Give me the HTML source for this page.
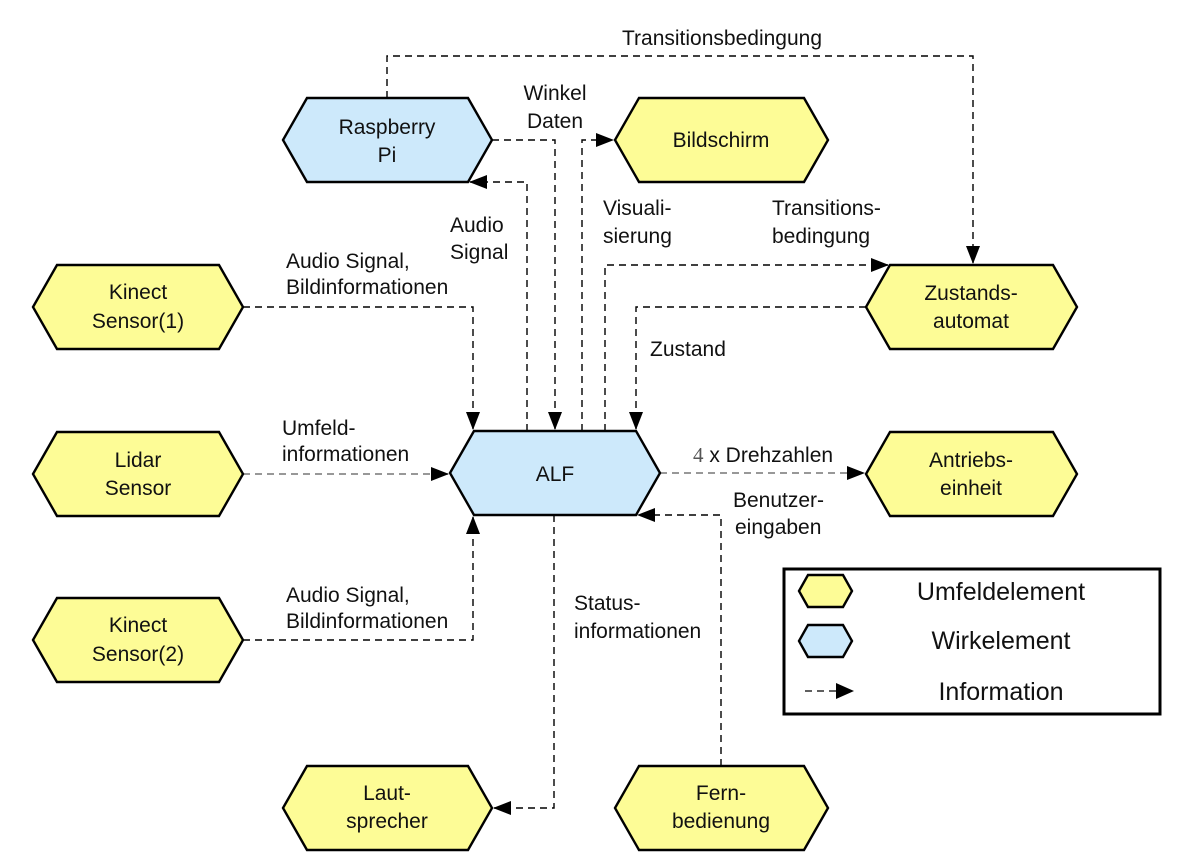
<!DOCTYPE html>
<html><head><meta charset="utf-8"><style>
html,body{margin:0;padding:0;background:#fff}
svg{display:block}
text{font-family:"Liberation Sans",sans-serif;font-size:21px;fill:#111}
.c{text-anchor:middle}
.y{fill:#fdfc96;stroke:#000;stroke-width:2.4}
.b{fill:#cde9fb;stroke:#000;stroke-width:2.4}
.d{fill:none;stroke:#000;stroke-width:1.4;stroke-dasharray:7,5}
.g{fill:none;stroke:#777;stroke-width:1.6;stroke-dasharray:7,5}
</style></head><body>
<svg width="1204" height="868" viewBox="0 0 1204 868" xmlns="http://www.w3.org/2000/svg">
<defs>
<marker id="A" markerWidth="18" markerHeight="14" refX="17" refY="7" orient="auto" markerUnits="userSpaceOnUse"><path d="M0,0 L18,7 L0,14 Z" fill="#000"/></marker></defs>

<path class="d" d="M387,98 V56 H973 V263" marker-end="url(#A)"/>
<path class="d" d="M492,140 H555 V429" marker-end="url(#A)"/>
<path class="d" d="M582,431 V140 H613" marker-end="url(#A)"/>
<path class="d" d="M527,431 V182 H470" marker-end="url(#A)"/>
<path class="d" d="M243,307 H473 V429" marker-end="url(#A)"/>
<path class="g" d="M243,474 H448" marker-end="url(#A)"/>
<path class="d" d="M243,640 H473 V517" marker-end="url(#A)"/>
<path class="d" d="M605,431 V265 H888" marker-end="url(#A)"/>
<path class="d" d="M866,307 H636 V429" marker-end="url(#A)"/>
<path class="g" d="M660,473 H864" marker-end="url(#A)"/>
<path class="d" d="M721,766 V515 H638" marker-end="url(#A)"/>
<path class="d" d="M554,515 V808 H494" marker-end="url(#A)"/>

<polygon class="b" points="283,140 307,98 468,98 492,140 468,182 307,182"/>
<polygon class="y" points="615,140 639,98 804,98 828,140 804,182 639,182"/>
<polygon class="y" points="33,307 57,265 219,265 243,307 219,349 57,349"/>
<polygon class="y" points="33,474 57,432 219,432 243,474 219,516 57,516"/>
<polygon class="y" points="33,640 57,598 219,598 243,640 219,682 57,682"/>
<polygon class="b" points="450,473 474,431 636,431 660,473 636,515 474,515"/>
<polygon class="y" points="866,307 890,265 1053,265 1077,307 1053,349 890,349"/>
<polygon class="y" points="866,474 890,432 1053,432 1077,474 1053,516 890,516"/>
<polygon class="y" points="283,808 307,766 468,766 492,808 468,850 307,850"/>
<polygon class="y" points="615,808 639,766 804,766 828,808 804,850 639,850"/>

<text class="c" x="387" y="134">Raspberry</text><text class="c" x="387" y="162">Pi</text>
<text class="c" x="721" y="147">Bildschirm</text>
<text class="c" x="138" y="299">Kinect</text><text class="c" x="138" y="328">Sensor(1)</text>
<text class="c" x="138" y="467">Lidar</text><text class="c" x="138" y="495">Sensor</text>
<text class="c" x="138" y="632">Kinect</text><text class="c" x="138" y="661">Sensor(2)</text>
<text class="c" x="555" y="481">ALF</text>
<text class="c" x="971" y="300">Zustands-</text><text class="c" x="971" y="328">automat</text>
<text class="c" x="971" y="467">Antriebs-</text><text class="c" x="971" y="495">einheit</text>
<text class="c" x="387" y="800">Laut-</text><text class="c" x="387" y="828">sprecher</text>
<text class="c" x="721" y="800">Fern-</text><text class="c" x="721" y="828">bedienung</text>

<text class="c" x="722" y="45">Transitionsbedingung</text>
<text class="c" x="555" y="100">Winkel</text><text class="c" x="555" y="128">Daten</text>
<text x="450" y="232">Audio</text><text x="450" y="259">Signal</text>
<text x="603" y="215">Visuali-</text><text x="603" y="243">sierung</text>
<text x="772" y="215">Transitions-</text><text x="772" y="243">bedingung</text>
<text x="286" y="268">Audio Signal,</text><text x="286" y="294">Bildinformationen</text>
<text x="650" y="356">Zustand</text>
<text x="282" y="435">Umfeld-</text><text x="282" y="461">informationen</text>
<text x="693" y="462"><tspan style="font-family:'Liberation Serif',serif;fill:#555">4</tspan> x Drehzahlen</text>
<text x="733" y="507">Benutzer-</text><text x="735" y="534">eingaben</text>
<text x="574" y="610">Status-</text><text x="574" y="638">informationen</text>
<text x="286" y="602">Audio Signal,</text><text x="286" y="628">Bildinformationen</text>

<rect x="784" y="569" width="376" height="145" fill="#fff" stroke="#000" stroke-width="3"/>
<polygon class="y" points="799,591 808,575 843,575 852,591 843,607 808,607"/>
<polygon class="b" points="799,641 808,625 843,625 852,641 843,657 808,657"/>
<path d="M805,691 H836" stroke="#000" stroke-width="1.3" stroke-dasharray="7,5"/>
<path d="M836,683 L854,691 L836,699 Z" fill="#000"/>
<text class="c" x="1001" y="600" style="font-size:25px">Umfeldelement</text>
<text class="c" x="1001" y="649" style="font-size:25px">Wirkelement</text>
<text class="c" x="1001" y="700" style="font-size:25px">Information</text>
</svg>
</body></html>
